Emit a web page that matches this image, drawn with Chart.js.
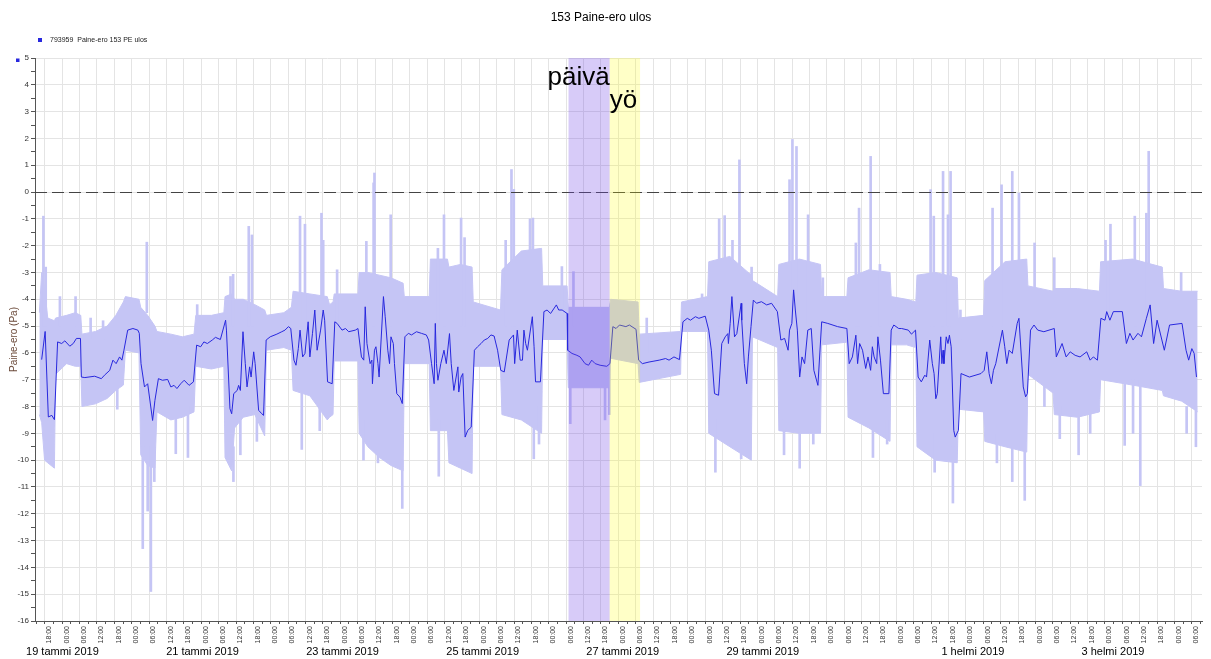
<!DOCTYPE html>
<html>
<head>
<meta charset="utf-8">
<title>153 Paine-ero ulos</title>
<script src="https://cdn.jsdelivr.net/npm/chart.js@4.4.1/dist/chart.umd.min.js"></script>
<style>
  html, body { margin: 0; padding: 0; background: #fff; overflow: hidden; }
  #wrap { width: 1211px; height: 659px; position: relative; }
</style>
</head>
<body>
<div id="wrap"><canvas id="chart"></canvas></div>
<script>
// hours counted from 19 tammi 2019 00:00
const X_MIN = -9.4, X_MAX = 390.5;

// mean line (dark blue)
const meanHours = [
  -8.6,-7.4,-6.3,-5.1,-4.2,-3.1,-1.7,-0.6,1.1,2.3,3.4,4.8,5.1,6.3,9.7,12.0,13.1,14.9,16.0,17.1,
  18.3,19.1,19.8,21.1,22.9,24.6,25.1,25.7,26.9,28.0,29.7,30.5,31.7,33.1,34.9,36.0,37.1,38.1,39.4,40.6,
  42.3,43.8,44.9,46.3,47.4,48.6,50.3,51.4,53.1,54.9,55.2,56.4,57.0,57.7,58.9,59.4,60.0,60.9,61.7,62.3,
  63.2,63.7,64.6,65.1,66.3,67.4,68.0,68.9,70.3,72.6,74.3,75.4,76.6,77.4,78.5,79.2,80.0,80.6,81.5,82.3,
  83.4,84.0,84.9,85.7,86.5,87.7,88.6,89.1,90.1,91.7,
  92.6,93.4,95.1,96.3,97.4,99.7,100.6,101.8,102.6,103.1,103.7,104.8,105.4,105.6,106.3,106.8,107.5,107.9,109.4,110.0,
  110.9,111.5,112.0,112.8,113.2,114.0,115.1,115.9,116.8,118.0,119.1,120.8,122.5,124.2,125.0,126.0,126.9,127.3,127.7,128.2,
  129.2,130.3,131.1,132.2,132.8,133.7,134.5,135.1,135.4,136.2,136.8,137.6,138.5,139.7,140.8,141.9,143.1,144.2,145.4,146.5,
  147.6,148.8,149.9,151.1,152.8,154.3,154.7,155.6,156.6,157.4,157.9,158.5,159.1,160.8,161.4,161.9,163.6,164.8,165.9,167.1,
  169.1,169.9,171.1,172.8,173.0,174.5,176.2,177.3,179.0,180.2,181.3,182.5,184.2,186.5,187.6,
  188.6,189.7,190.9,193.1,194.3,196.6,197.5,198.8,201.1,204.6,206.8,208.0,209.7,211.6,212.8,214.3,215.4,217.1,218.3,220.5,
  221.7,222.6,223.7,225.1,226.2,227.4,228.3,228.5,229.1,229.7,230.6,231.4,232.9,233.1,234.0,234.8,235.4,236.3,237.1,238.2,
  239.9,241.7,243.4,245.4,246.6,247.9,249.1,249.6,250.4,251.0,251.6,252.3,253.1,253.9,254.8,255.9,257.1,258.0,259.4,260.7,
  262.8,266.2,269.4,270.2,271.3,272.5,273.1,273.8,274.8,275.9,276.7,277.6,278.2,278.8,279.7,280.1,281.0,282.0,283.9,284.7,
  285.6,287.3,
  288.3,290.6,291.7,293.1,294.0,295.1,296.3,296.9,298.0,298.9,299.5,300.1,300.6,301.8,302.2,302.6,302.9,303.7,304.3,304.8,
  305.4,306.3,306.8,307.9,308.8,311.7,315.7,316.8,317.7,318.5,319.3,320.0,320.8,323.1,323.9,324.6,325.4,326.5,328.2,328.8,
  330.3,331.1,331.7,332.8,334.0,335.3,337.4,341.0,341.7,343.7,345.1,346.5,348.2,349.9,352.2,353.4,354.5,355.9,357.1,358.5,
  359.1,360.2,361.4,364.5,365.9,367.1,368.2,369.9,371.1,372.8,374.1,375.3,376.5,379.0,380.8,385.1,386.5,387.4,388.5,389.3,
  390.1
];
const meanValues = [
  -6.25,-5.2,-8.39,-8.33,-8.49,-5.59,-5.65,-5.55,-5.75,-5.65,-5.46,-5.46,-6.9,-6.92,-6.87,-6.96,-6.83,-6.65,-6.27,-6.4,
  -6.15,-6.27,-5.9,-5.15,-5.09,-5.15,-5.27,-6.4,-7.27,-7.15,-8.52,-7.77,-6.96,-7.02,-6.99,-7.27,-7.21,-7.33,-7.15,-7.02,
  -7.21,-7.08,-5.71,-5.77,-5.59,-5.65,-5.52,-5.42,-5.5,-4.78,-5.15,-8.08,-8.27,-7.52,-7.4,-7.21,-7.4,-5.21,-6.4,-7.27,
  -6.52,-6.9,-5.96,-6.4,-8.14,-8.27,-8.33,-5.52,-5.4,-5.3,-5.21,-5.15,-5.02,-5.09,-6.27,-6.46,-5.84,-5.15,-6.15,-6.02,
  -4.84,-6.15,-5.27,-4.4,-5.9,-5.15,-4.4,-4.78,-7.08,-7.15,
  -4.84,-4.9,-5.15,-5.09,-5.21,-5.15,-5.09,-6.15,-6.27,-4.28,-5.65,-6.4,-6.27,-7.15,-5.9,-5.77,-6.4,-6.9,-3.9,-4.65,
  -5.9,-6.4,-5.4,-5.65,-6.4,-7.52,-7.65,-7.89,-5.4,-5.27,-5.33,-5.21,-5.27,-5.33,-5.52,-6.4,-7.15,-4.9,-6.4,-7.02,
  -6.4,-5.9,-6.4,-5.28,-6.4,-7.4,-6.9,-6.52,-7.46,-6.9,-6.77,-9.14,-8.89,-8.77,-5.9,-5.77,-5.65,-5.52,-5.46,-5.33,
  -5.37,-5.9,-6.65,-6.71,-5.52,-5.33,-6.4,-5.15,-6.27,-6.27,-5.15,-5.65,-5.9,-4.65,-5.77,-7.08,-7.08,-4.46,-4.4,-4.53,
  -4.21,-4.4,-4.4,-4.53,-5.9,-6.02,-6.09,-6.15,-6.4,-6.46,-6.27,-6.4,-6.46,-6.5,-6.4,
  -5.02,-5.09,-4.96,-5.02,-4.96,-5.12,-6.27,-6.4,-6.34,-6.27,-6.21,-6.27,-6.15,-6.25,-4.84,-4.71,-4.78,-4.65,-4.71,-4.63,
  -5.15,-5.9,-7.52,-7.58,-5.65,-5.4,-5.28,-5.65,-4.9,-3.9,-5.4,-5.28,-4.15,-4.78,-6.4,-7.15,-6.15,-5.02,-4.03,-4.15,
  -4.09,-4.21,-4.15,-4.46,-5.52,-5.46,-5.9,-5.15,-4.9,-3.65,-4.4,-5.15,-6.9,-6.15,-6.4,-5.15,-5.09,-6.65,-7.21,-4.84,
  -4.9,-5.02,-5.09,-6.4,-6.15,-5.34,-6.4,-5.65,-5.9,-6.58,-6.15,-6.65,-5.77,-6.15,-6.4,-5.4,-6.27,-7.52,-7.52,-5.15,
  -4.96,-5.09,
  -5.09,-5.15,-5.3,-5.15,-6.9,-7.08,-6.83,-6.9,-5.52,-6.4,-6.77,-7.71,-7.52,-5.4,-6.4,-5.9,-6.4,-5.4,-5.65,-5.34,
  -5.77,-8.89,-9.14,-8.89,-6.77,-6.9,-6.77,-6.65,-5.96,-6.77,-7.15,-6.65,-6.4,-5.15,-5.77,-6.4,-5.9,-6.02,-4.9,-4.71,
  -7.27,-7.64,-7.52,-5.15,-4.96,-5.15,-5.21,-5.09,-6.15,-5.65,-6.15,-5.96,-6.09,-6.15,-5.96,-6.27,-6.15,-6.27,-4.71,-4.78,
  -4.46,-4.78,-4.46,-4.46,-5.65,-5.27,-5.52,-5.27,-5.4,-4.71,-4.21,-5.65,-4.78,-5.9,-4.96,-4.9,-5.9,-6.27,-5.84,-6.02,
  -6.9
];

// raw data range (light band)
const bandHours = [
  -9.4,-8.6,-7.6,-6.5,-4.2,-3.8,0,3,4.9,5.3,10,14,17,19.6,20.3,25,25.6,28,30.5,31.2,
  36,40,44,44.6,50,54.3,54.7,57,58,61,65,68.4,69,75,77.6,78.2,84,90,90.8,92.0,
  92.4,100.6,101.0,104,108,112,116.2,116.6,125.2,125.6,131.5,132,136,140,140.4,149.8,150.3,157,164,164.4,
  172.8,173.2,187.4,187.8,197.3,197.7,212,212.3,221.3,221.7,229,236.4,236.8,245.5,245.9,253,260.3,260.7,269.4,269.8,
  277,284.3,284.7,290,293.2,293.6,300,307.5,307.9,316.6,317,324,331.5,331.9,340.6,341,349,356.6,357,368,
  378.3,378.7,385,390.5
];
const bandHigh = [
  -4.5,-3.0,-3.6,-4.7,-4.8,-4.7,-4.6,-4.5,-4.6,-5.3,-5.2,-5.0,-4.6,-4.1,-3.9,-4.0,-4.3,-4.6,-5.0,-5.2,
  -5.3,-5.4,-5.3,-4.6,-4.6,-4.5,-3.9,-3.8,-4.0,-4.0,-4.2,-4.4,-4.6,-4.5,-4.3,-3.7,-3.8,-3.9,-4.2,-4.1,
  -3.8,-3.8,-3.0,-3.0,-3.1,-3.2,-3.4,-3.9,-3.9,-2.5,-2.5,-2.8,-2.7,-2.8,-4.1,-4.4,-2.9,-2.2,-2.1,-3.5,
  -3.5,-4.3,-4.3,-4.0,-4.1,-5.3,-5.2,-4.1,-3.9,-2.6,-2.4,-3.1,-3.3,-3.9,-2.7,-2.5,-2.7,-3.9,-3.9,-3.2,
  -2.9,-3.0,-3.9,-4.0,-4.1,-3.1,-3.0,-3.2,-4.7,-4.6,-3.3,-2.6,-2.5,-3.5,-3.7,-3.6,-3.6,-3.7,-2.6,-2.5,
  -2.8,-3.6,-3.7,-3.7
];
const bandLow = [
  -8.3,-8.6,-10.0,-10.1,-10.3,-6.8,-6.4,-6.5,-6.5,-8.0,-7.9,-7.7,-7.4,-7.2,-5.9,-6.0,-9.8,-10.2,-10.3,-8.2,
  -8.5,-8.4,-8.2,-6.5,-6.6,-6.5,-9.9,-10.4,-8.8,-8.4,-8.3,-9.1,-5.9,-5.8,-5.9,-7.4,-7.6,-8.5,-8.4,-8.3,
  -6.3,-6.3,-9.0,-9.5,-9.9,-10.2,-10.4,-6.4,-6.4,-8.9,-8.9,-10.1,-10.3,-10.5,-6.5,-6.5,-8.3,-8.5,-9.0,-5.5,
  -5.5,-7.3,-7.3,-6.2,-6.4,-7.1,-6.8,-5.2,-5.2,-9.0,-9.5,-10.0,-5.4,-5.8,-8.9,-9.0,-9.0,-5.7,-5.6,-8.4,
  -8.8,-9.3,-5.7,-5.7,-5.8,-9.5,-10.0,-10.1,-8.1,-8.2,-9.3,-9.5,-9.7,-6.8,-7.5,-8.3,-8.4,-8.2,-7.0,-7.2,
  -7.4,-7.6,-7.8,-8.2
];

// single spikes of the raw data
const spikeHours = [
  -8.0,-7.2,-2.3,3.1,8.3,12.6,17.5,26.3,27.7,28.0,29.1,30.3,37.7,41.9,45.1,56.6,57.5,57.6,60.0,62.9,
  64.0,65.7,80.6,81.2,82.3,87.4,88.0,88.6,93.4,102.5,103.5,106.0,106.3,107.5,111.9,115.9,128.2,128.5,130.3,136.2,
  137.4,151.6,153.6,154.4,160.0,161.0,161.3,163.1,171.0,173.9,175.0,185.9,187.4,200.3,219.4,224.0,225.3,227.2,229.9,232.3,
  232.9,236.5,247.7,249.6,250.6,252.0,253.1,256.0,257.8,261.1,272.5,273.6,277.6,278.4,280.8,283.3,298.3,299.4,299.7,302.6,
  304.3,305.2,306.0,308.6,319.7,321.2,322.8,326.5,326.5,328.8,330.8,334.2,337.6,341.0,342.9,349.4,353.4,358.7,360.4,365.3,
  368.2,368.8,370.7,372.8,373.6,384.8,386.7,389.9
];
const spikeLow = [
  -5,-5,-5,-5,-5.5,-5.5,-8.1,-13.3,-4.5,-11.9,-14.9,-10.8,-9.76,-9.9,-5,-5,-5,-10.8,-9.8,-5,
  -5,-9.3,-5,-9.6,-5,-8.9,-5,-5,-5,-10.0,-5,-5,-5,-10.1,-5,-11.8,-5,-10.6,-5,-5,
  -5,-5,-5,-5,-5,-5,-9.95,-9.4,-5,-8.64,-5,-8.5,-8.3,-6,-5,-10.45,-5,-5,-5,-5,
  -9.95,-5,-9.8,-5,-5,-5,-10.3,-5,-9.4,-5,-5,-5,-5,-9.9,-5,-9.4,-5,-5,-10.45,-5,
  -5,-5,-11.6,-5.5,-5,-10.1,-5,-5,-10.8,-5,-11.5,-5,-8.0,-5,-9.2,-9.8,-9.0,-5,-5,-9.45,
  -9.0,-5,-10.95,-5,-5,-5,-9.0,-9.5
];
const spikeHigh = [
  -0.9,-2.8,-3.9,-3.9,-4.7,-4.8,-7.0,-9.5,-1.87,-9.5,-9.5,-9.5,-8.0,-8.0,-4.2,-3.15,-3.07,-9.5,-8.3,-1.28,
  -1.6,-8.0,-0.9,-7.5,-1.2,-8.0,-0.79,-1.8,-2.9,-8.5,-1.84,0.34,0.71,-9.0,-0.85,-10.0,-2.1,-8.5,-0.85,-0.97,
  -1.7,-1.8,0.84,0.1,-1.0,-0.97,-8.0,-8.0,-2.78,-7.0,-2.97,-7.0,-6.0,-4.7,-3.8,-8.5,-1.0,-0.88,-1.8,1.2,
  -8.5,-2.8,-8.5,0.46,1.96,1.7,-8.5,-0.85,-8.5,-3.2,-1.9,-0.6,1.33,-8.5,-2.7,-8.5,0.09,-0.9,-9.0,0.77,
  -0.85,0.77,-9.5,-4.4,-0.6,-9.0,0.27,0.77,-9.0,-0.04,-9.0,-1.9,-7.0,-2.45,-8.0,-8.0,-8.0,-1.8,-1.2,-7.0,
  -7.0,-0.9,-7.0,-0.79,1.52,-3.0,-8.0,-8.0
];

// day / night marked periods
const shadeFrom = [173.3, 187.5];
const shadeTo = [187.5, 198.0];
const shadeLabels = ['päivä', 'yö'];

// date labels under the hour ticks
const dateHours = [0, 48, 96, 144, 192, 240, 312, 360];
const dateLabels = ['19 tammi 2019', '21 tammi 2019', '23 tammi 2019', '25 tammi 2019',
  '27 tammi 2019', '29 tammi 2019', '1 helmi 2019', '3 helmi 2019'];

const legendText = '793959  Paine-ero 153 PE ulos';

const bandColor = 'rgb(197,197,245)';
const lineColor = 'rgb(40,40,222)';
const gridColor = '#e4e4e4';
const shadeColors = ['rgba(110,70,230,0.28)', 'rgba(255,255,0,0.22)'];

const hourTicks = [];
for (let h = -9; h <= 390; h += 3) hourTicks.push(h);
const yTicks = [];
for (let v = -16; v <= 5; v += 0.5) yTicks.push(v);

function pad(n){ return (n < 10 ? '0' : '') + n; }

const overlay = {
  id: 'overlay',
  afterDatasetsDraw(chart){
    const {ctx, chartArea: a, scales: {x, y}} = chart;
    ctx.save();
    // zero line
    const y0 = Math.round(y.getPixelForValue(0)) + 0.5;
    ctx.strokeStyle = '#444'; ctx.lineWidth = 1; ctx.setLineDash([12, 5]);
    ctx.beginPath(); ctx.moveTo(a.left, y0); ctx.lineTo(a.right, y0); ctx.stroke();
    ctx.setLineDash([]);
    // shaded periods
    shadeFrom.forEach((f, i) => {
      const x1 = x.getPixelForValue(f), x2 = x.getPixelForValue(shadeTo[i]);
      ctx.fillStyle = shadeColors[i];
      ctx.fillRect(x1, a.top, x2 - x1, a.bottom - a.top);
    });
    ctx.fillStyle = '#000';
    ctx.font = '26px "Liberation Sans", Arial, sans-serif';
    ctx.textBaseline = 'alphabetic';
    ctx.textAlign = 'right';
    ctx.fillText(shadeLabels[0], x.getPixelForValue(shadeTo[0]), y.getPixelForValue(4.0));
    ctx.textAlign = 'left';
    ctx.fillText(shadeLabels[1], x.getPixelForValue(shadeFrom[1]), y.getPixelForValue(3.15));
    ctx.restore();
  },
  afterDraw(chart){
    const ctx = chart.ctx;
    ctx.save();
    ctx.fillStyle = lineColor;
    ctx.fillRect(38, 38, 4, 4);
    ctx.fillRect(16, 58.5, 3.5, 3.5);
    ctx.fillStyle = '#222';
    ctx.font = '7px "Liberation Sans", Arial, sans-serif';
    ctx.textAlign = 'left'; ctx.textBaseline = 'middle';
    ctx.fillText(legendText, 50, 40);
    ctx.restore();
  }
};

Chart.defaults.font.family = '"Liberation Sans", Arial, sans-serif';

new Chart(document.getElementById('chart'), {
  type: 'line',
  data: {
    datasets: [
      {
        label: legendText,
        data: meanHours.map((h, i) => ({x: h, y: meanValues[i]})),
        borderColor: lineColor, backgroundColor: lineColor,
        borderWidth: 1, pointRadius: 0, tension: 0, fill: false, order: 0
      },
      {
        type: 'bar',
        label: 'spikes',
        data: spikeHours.map((h, i) => ({x: h, y: [spikeLow[i], spikeHigh[i]]})),
        backgroundColor: bandColor, borderWidth: 0,
        barThickness: 2, grouped: false, order: 1
      },
      {
        label: 'max',
        data: bandHours.map((h, i) => ({x: h, y: bandHigh[i]})),
        borderColor: bandColor, backgroundColor: bandColor,
        borderWidth: 1, pointRadius: 0, tension: 0, fill: '+1', order: 2
      },
      {
        label: 'min',
        data: bandHours.map((h, i) => ({x: h, y: bandLow[i]})),
        borderColor: bandColor, backgroundColor: bandColor,
        borderWidth: 1, pointRadius: 0, tension: 0, fill: false, order: 3
      }
    ]
  },
  options: {
    responsive: true,
    maintainAspectRatio: false,
    animation: false,
    devicePixelRatio: 1,
    layout: { padding: { left: 0, right: 9, top: 0, bottom: 0 } },
    plugins: {
      legend: { display: false },
      tooltip: { enabled: false },
      title: {
        display: true,
        text: '153 Paine-ero ulos',
        color: '#000',
        font: { size: 12, weight: 'normal' },
        padding: { top: 10, bottom: 33.6 }
      }
    },
    scales: {
      x: {
        type: 'linear', min: X_MIN, max: X_MAX, position: 'bottom', weight: 0,
        afterBuildTicks: s => { s.ticks = hourTicks.map(v => ({value: v})); },
        afterFit: s => { s.height = 24; },
        grid: {
          color: c => (c.tick && c.tick.value % 6 === 0) ? gridColor : 'rgba(0,0,0,0)',
          tickColor: '#555', tickLength: 3, lineWidth: 1
        },
        border: { color: '#555' },
        ticks: {
          autoSkip: false, maxRotation: 90, minRotation: 90, padding: 2,
          color: '#333', font: { size: 7 },
          callback: v => v % 6 === 0 ? pad(((v % 24) + 24) % 24) + ':00' : ''
        }
      },
      x2: {
        type: 'linear', min: X_MIN, max: X_MAX, position: 'bottom', weight: 1,
        afterBuildTicks: s => { s.ticks = dateHours.map(v => ({value: v})); },
        afterFit: s => { s.height = 14; },
        grid: { display: false, drawTicks: false, tickLength: 0 },
        border: { display: false },
        ticks: {
          autoSkip: false, maxRotation: 0, minRotation: 0, padding: 0,
          color: '#000', font: { size: 11 },
          callback: v => dateLabels[dateHours.indexOf(v)]
        }
      },
      y: {
        type: 'linear', min: -16, max: 5, position: 'left',
        afterBuildTicks: s => { s.ticks = yTicks.map(v => ({value: v})); },
        afterFit: s => { s.width = 35; },
        grid: {
          color: c => (c.tick && Number.isInteger(c.tick.value)) ? gridColor : 'rgba(0,0,0,0)',
          tickColor: '#555', tickLength: 4
        },
        border: { color: '#555' },
        title: {
          display: true, text: 'Paine-ero (Pa)', color: '#6b4a3a',
          font: { size: 10 }, padding: { top: 8, bottom: 0 }
        },
        ticks: {
          autoSkip: false, padding: 2, color: '#333', font: { size: 8 },
          callback: v => Number.isInteger(v) ? String(v) : ''
        }
      }
    }
  },
  plugins: [overlay]
});
</script>
</body>
</html>
